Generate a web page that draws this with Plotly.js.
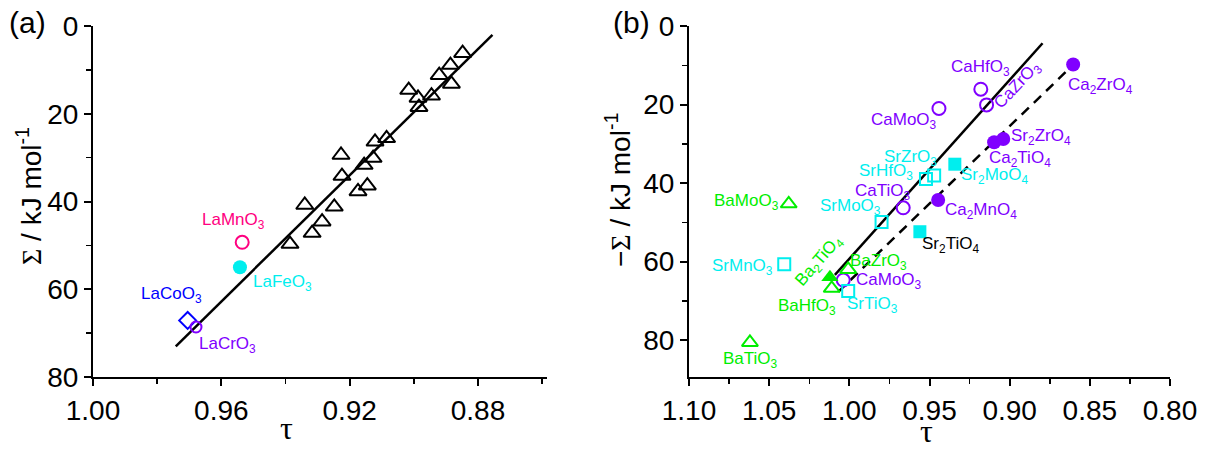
<!DOCTYPE html>
<html>
<head>
<meta charset="utf-8">
<script src="https://cdn.plot.ly/plotly-3.0.1.min.js"></script>
<style>html,body{margin:0;padding:0;background:#fff;}#chart{width:1208px;height:451px;}</style>
</head>
<body>
<div id="chart"></div>
<script>
// ---------------- Panel (a) data ----------------
const triTauA = [0.8848,0.8886,0.8921,0.8883,0.9016,0.8987,0.8945,0.8984,0.9121,0.9085,0.9227,0.9127,0.9155,0.9224,0.9145,0.9174,0.9340,0.9248,0.9286,0.9317,0.9386];
const triSigA = [6.2,8.9,11.2,13.2,14.6,16.4,15.9,18.5,26.4,25.6,29.4,30.1,31.7,34.2,36.4,37.7,40.8,41.2,44.6,47.2,49.7];
const laNames = ['LaMnO<sub>3</sub>','LaFeO<sub>3</sub>','LaCoO<sub>3</sub>','LaCrO<sub>3</sub>'];
const laTau   = [0.9535,0.9542,0.9705,0.9679];
const laSig   = [49.3,55.0,67.1,68.6];
const fitTauA = [0.9742,0.8755];
const fitSigA = [73.0,2.0];
const xTicksA = [1.00,0.96,0.92,0.88];
const xTickTextA = ['1.00','0.96','0.92','0.88'];
const yTicks = [0,20,40,60,80];
const yTickText = ['0','20','40','60','80'];

// ---------------- Panel (b) data ----------------
const caOpenNames = ['CaHfO<sub>3</sub>','CaZrO<sub>3</sub>','CaMoO<sub>3</sub>','CaTiO<sub>3</sub>','CaMoO<sub>3</sub>'];
const caOpenTau   = [0.9180,0.9144,0.9441,0.9664,1.0038];
const caOpenSig   = [16.1,20.1,21.0,46.3,64.7];
const caFillNames = ['Ca<sub>2</sub>ZrO<sub>4</sub>','Sr<sub>2</sub>ZrO<sub>4</sub>','Ca<sub>2</sub>TiO<sub>4</sub>','Ca<sub>2</sub>MnO<sub>4</sub>'];
const caFillTau   = [0.8604,0.9040,0.9097,0.9446];
const caFillSig   = [9.8,28.8,29.6,44.3];
const srOpenNames = ['SrZrO<sub>3</sub>','SrHfO<sub>3</sub>','SrMoO<sub>3</sub>','SrMnO<sub>3</sub>','SrTiO<sub>3</sub>'];
const srOpenTau   = [0.9471,0.9522,0.9799,1.0406,1.0007];
const srOpenSig   = [38.1,39.0,49.9,60.7,67.5];
const srFillNames = ['Sr<sub>2</sub>MoO<sub>4</sub>','Sr<sub>2</sub>TiO<sub>4</sub>'];
const srFillTau   = [0.9342,0.9560];
const srFillSig   = [35.2,52.4];
const baOpenNames = ['BaMoO<sub>3</sub>','BaTiO<sub>3</sub>','BaZrO<sub>3</sub>','BaHfO<sub>3</sub>'];
const baOpenTau   = [1.0378,1.0620,1.0007,1.0110];
const baOpenSig   = [45.3,80.6,62.0,66.8];
const baFillNames = ['Ba<sub>2</sub>TiO<sub>4</sub>'];
const baFillTau   = [1.0121];
const baFillSig   = [64.0];
const fitSolidTau = [1.0090,0.8795];
const fitSolidSig = [63.4,4.4];
const fitDashTau  = [1.0069,0.8546];
const fitDashSig  = [67.7,7.6];
const xTicksB = [1.10,1.05,1.00,0.95,0.90,0.85,0.80];
const xTickTextB = ['1.10','1.05','1.00','0.95','0.90','0.85','0.80'];

// ---------------- styles ----------------
const PURPLE = '#8000ff', CYAN = '#00eeee', GREEN = '#00ee00', PINK = '#ff0080', BLUE = '#0000ff';
const FONT = 'Arial, "Liberation Sans", sans-serif';
const SERIF = '"Liberation Serif", "DejaVu Serif", serif';

// label offsets (pixels) relative to markers, and colors / angles
const laOff = [[-9,21,PINK],[43,-16,CYAN],[-16,25,BLUE],[32,-18,PURPLE]];
const caOpenOff = [[0,21,0],[31,19,-47],[-35,-13,0],[-20,16,0],[46,-1,0]];
const caFillOff = [[27,-22],[38,2],[26,-17],[43,-11]];
const srOpenOff = [[-24,18],[-40,7],[-31,15],[-42,-3],[24,-14]];
const srFillOff = [[40,-12,CYAN],[31,-13,'#000000']];
const baOpenOff = [[-42,2],[1,-18],[30,7],[-25,-19]];
const baFillOff = [[-10,16,-49]];

function pts(x, y, xa, ya, symbol, color, size, filled) {
  return {
    x: x, y: y, xaxis: xa, yaxis: ya, type: 'scatter', mode: 'markers',
    cliponaxis: false, showlegend: false, hoverinfo: 'skip',
    marker: {symbol: symbol, size: size, color: color,
             line: {color: color, width: filled ? 0 : 2}}
  };
}

const traces = [
  {x: fitTauA, y: fitSigA, xaxis: 'x', yaxis: 'y', mode: 'lines', line: {color: '#000', width: 2.5}, showlegend: false, hoverinfo: 'skip'},
  pts(triTauA, triSigA, 'x', 'y', 'triangle-up-open', '#000', 15, false),
  pts([laTau[0]], [laSig[0]], 'x', 'y', 'circle-open', PINK, 13, false),
  pts([laTau[1]], [laSig[1]], 'x', 'y', 'circle', CYAN, 14, true),
  pts([laTau[2]], [laSig[2]], 'x', 'y', 'diamond-open', BLUE, 13, false),
  pts([laTau[3]], [laSig[3]], 'x', 'y', 'circle-open', PURPLE, 11, false),

  {x: fitSolidTau, y: fitSolidSig, xaxis: 'x2', yaxis: 'y2', mode: 'lines', line: {color: '#000', width: 2.5}, showlegend: false, hoverinfo: 'skip'},
  {x: fitDashTau, y: fitDashSig, xaxis: 'x2', yaxis: 'y2', mode: 'lines', line: {color: '#000', width: 2.5, dash: '10px,7px'}, showlegend: false, hoverinfo: 'skip'},
  pts(caOpenTau, caOpenSig, 'x2', 'y2', 'circle-open', PURPLE, 13, false),
  pts(caFillTau, caFillSig, 'x2', 'y2', 'circle', PURPLE, 14, true),
  pts(srOpenTau, srOpenSig, 'x2', 'y2', 'square-open', CYAN, 12, false),
  pts(srFillTau, srFillSig, 'x2', 'y2', 'square', CYAN, 13, true),
  pts(baOpenTau, baOpenSig, 'x2', 'y2', 'triangle-up-open', GREEN, 14, false),
  pts(baFillTau, baFillSig, 'x2', 'y2', 'triangle-up', GREEN, 15, true)
];

const ann = [];
function addLabels(names, xs, ys, offs, xr, yr, defColor) {
  names.forEach((n, i) => {
    const o = offs[i];
    const color = (typeof o[2] === 'string') ? o[2] : defColor;
    const ang = (typeof o[2] === 'number') ? o[2] : 0;
    ann.push({x: xs[i], y: ys[i], xref: xr, yref: yr, text: n, showarrow: false,
      xshift: o[0], yshift: o[1], textangle: ang, xanchor: 'center', yanchor: 'middle',
      font: {family: FONT, size: 17, color: color}});
  });
}
addLabels(laNames, laTau, laSig, laOff, 'x', 'y', PURPLE);
addLabels(caOpenNames, caOpenTau, caOpenSig, caOpenOff, 'x2', 'y2', PURPLE);
addLabels(caFillNames, caFillTau, caFillSig, caFillOff, 'x2', 'y2', PURPLE);
addLabels(srOpenNames, srOpenTau, srOpenSig, srOpenOff, 'x2', 'y2', CYAN);
addLabels(srFillNames, srFillTau, srFillSig, srFillOff, 'x2', 'y2', CYAN);
addLabels(baOpenNames, baOpenTau, baOpenSig, baOpenOff, 'x2', 'y2', GREEN);
addLabels(baFillNames, baFillTau, baFillSig, baFillOff, 'x2', 'y2', GREEN);

const W = 1208, H = 451;
function px(x) { return x / W; }
function py(y) { return 1 - y / H; }

// panel letters and axis titles
ann.push({xref: 'paper', yref: 'paper', x: px(27), y: py(22), text: '(a)', showarrow: false, xanchor: 'center', yanchor: 'middle', font: {family: FONT, size: 30, color: '#000'}});
ann.push({xref: 'paper', yref: 'paper', x: px(631), y: py(22), text: '(b)', showarrow: false, xanchor: 'center', yanchor: 'middle', font: {family: FONT, size: 30, color: '#000'}});
ann.push({xref: 'paper', yref: 'paper', x: px(286), y: py(428), text: 'τ', showarrow: false, xanchor: 'center', yanchor: 'middle', font: {family: SERIF, size: 32, color: '#000'}});
ann.push({xref: 'paper', yref: 'paper', x: px(927), y: py(431), text: 'τ', showarrow: false, xanchor: 'center', yanchor: 'middle', font: {family: SERIF, size: 32, color: '#000'}});
ann.push({xref: 'paper', yref: 'paper', x: px(29), y: py(196), textangle: -90,
  text: '<span style="font-family:Liberation Serif, serif">Σ</span> / kJ mol<sup>-1</sup>',
  showarrow: false, xanchor: 'center', yanchor: 'middle', font: {family: FONT, size: 28, color: '#000'}});
ann.push({xref: 'paper', yref: 'paper', x: px(618), y: py(190), textangle: -90,
  text: '−<span style="font-family:Liberation Serif, serif">Σ</span> / kJ mol<sup>-1</sup>',
  showarrow: false, xanchor: 'center', yanchor: 'middle', font: {family: FONT, size: 28, color: '#000'}});

const axBase = {
  showline: true, linecolor: '#000', linewidth: 2, mirror: false,
  ticks: 'outside', ticklen: 7, tickwidth: 2, tickcolor: '#000',
  showgrid: false, zeroline: false, tickmode: 'array',
  tickfont: {family: FONT, size: 28, color: '#000'}, fixedrange: true
};

const layout = {
  width: W, height: H, margin: {l: 0, r: 0, t: 0, b: 0},
  paper_bgcolor: '#fff', plot_bgcolor: 'rgba(0,0,0,0)', showlegend: false,
  xaxis: Object.assign({}, axBase, {domain: [px(93), px(547)], range: [1.0, 0.8585], anchor: 'y',
    tickvals: xTicksA, ticktext: xTickTextA,
    minor: {tickmode: 'linear', tick0: 1.0, dtick: 0.02, ticks: 'outside', ticklen: 5, tickwidth: 1.5, tickcolor: '#000'}}),
  yaxis: Object.assign({}, axBase, {domain: [py(377), py(26)], range: [80, 0], anchor: 'x',
    tickvals: yTicks, ticktext: yTickText,
    minor: {tickmode: 'linear', tick0: 0, dtick: 10, ticks: 'outside', ticklen: 5, tickwidth: 1.5, tickcolor: '#000'}}),
  xaxis2: Object.assign({}, axBase, {domain: [px(689), px(1170)], range: [1.10, 0.80], anchor: 'y2',
    tickvals: xTicksB, ticktext: xTickTextB,
    minor: {tickmode: 'linear', tick0: 1.10, dtick: 0.025, ticks: 'outside', ticklen: 5, tickwidth: 1.5, tickcolor: '#000'}}),
  yaxis2: Object.assign({}, axBase, {domain: [py(377), py(26)], range: [89.4, 0], anchor: 'x2',
    tickvals: yTicks, ticktext: yTickText,
    minor: {tickmode: 'linear', tick0: 0, dtick: 10, ticks: 'outside', ticklen: 5, tickwidth: 1.5, tickcolor: '#000'}}),
  annotations: ann
};

Plotly.newPlot('chart', traces, layout, {staticPlot: true, displayModeBar: false});
</script>
</body>
</html>
